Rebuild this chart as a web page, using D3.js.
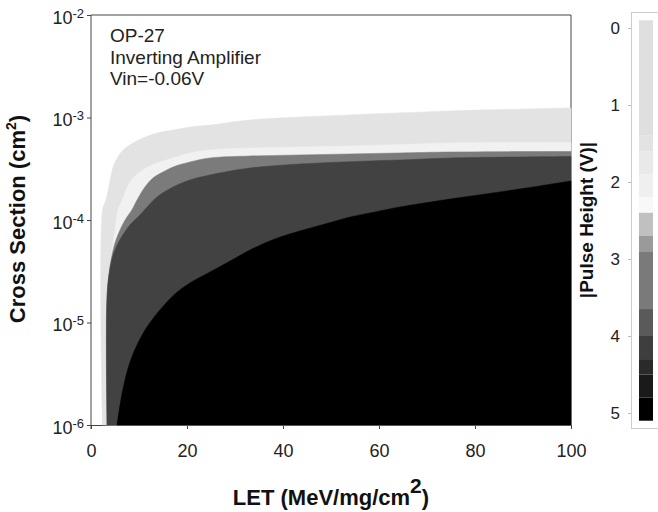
<!DOCTYPE html>
<html>
<head>
<meta charset="utf-8">
<script src="https://cdn.jsdelivr.net/npm/d3@7"></script>
<style>
  body { margin: 0; background: #fff; }
  svg { font-family: "Liberation Sans", Arial, sans-serif; }
</style>
</head>
<body>
<div id="wrapper"></div>
<script>
// edges of the contour bands
// LET in MeV/mg/cm2, cross section in cm2
const letA = [2.4, 2.4, 3.1, 4.0, 4.6, 5.6, 6.7, 8.75, 10.8, 13.75, 17.1, 20.6, 24.8, 33.1, 43.5, 54, 64.4, 74.8, 100]
const sigA = [1e-6, 1.25e-4, 1.57e-4, 2.46e-4, 3.29e-4, 4.12e-4, 4.82e-4, 5.64e-4, 6.31e-4, 7.06e-4, 7.55e-4, 8.07e-4, 8.45e-4, 9.46e-4, 1.01e-3, 1.06e-3, 1.11e-3, 1.16e-3, 1.24e-3]

const letB = [3.4, 3.4, 4.4, 5.0, 5.6, 6.5, 7.5, 8.75, 10.8, 13.75, 17.1, 20.6, 24.8, 33.1, 43.5, 54, 64.4, 74.8, 100]
const sigB = [1e-6, 2.32e-5, 5.09e-5, 7.98e-5, 1.25e-4, 1.57e-4, 2.05e-4, 2.57e-4, 3.08e-4, 3.60e-4, 4.03e-4, 4.51e-4, 4.82e-4, 5.04e-4, 5.15e-4, 5.27e-4, 5.45e-4, 5.64e-4, 5.70e-4]

const letC = [3.4, 3.4, 4.6, 5.6, 7.1, 8.5, 9.6, 11.25, 12.9, 15, 17.1, 20.6, 24.8, 33.1, 43.5, 54, 64.4, 74.8, 100]
const sigC = [1e-6, 2.07e-5, 5.09e-5, 7.14e-5, 1.0e-4, 1.25e-4, 1.57e-4, 2.10e-4, 2.57e-4, 2.94e-4, 3.29e-4, 3.68e-4, 4.03e-4, 4.21e-4, 4.31e-4, 4.41e-4, 4.51e-4, 4.61e-4, 4.66e-4]

const letD = [3.33, 3.33, 3.75, 4.6, 6.0, 8.1, 10.2, 11.7, 13.75, 17.1, 20.6, 24.8, 33.1, 43.5, 54, 64.4, 74.8, 100]
const sigD = [1e-6, 1.66e-5, 2.90e-5, 4.56e-5, 6.38e-5, 8.93e-5, 1.12e-4, 1.34e-4, 1.68e-4, 2.10e-4, 2.46e-4, 2.75e-4, 3.21e-4, 3.52e-4, 3.71e-4, 3.85e-4, 4.03e-4, 4.17e-4]

const letE = [5.42, 6.04, 7.08, 8.13, 9.58, 11.25, 13.33, 15.42, 17.5, 20.6, 24.8, 29.0, 33.1, 38.3, 43.5, 48.75, 54, 59.2, 64.4, 74.8, 85.2, 93.5, 100]
const sigE = [1e-6, 1.57e-6, 2.75e-6, 4.12e-6, 6.03e-6, 8.45e-6, 1.16e-5, 1.51e-5, 1.90e-5, 2.43e-5, 3.11e-5, 3.98e-5, 5.09e-5, 6.53e-5, 7.82e-5, 9.14e-5, 1.07e-4, 1.20e-4, 1.34e-4, 1.60e-4, 1.88e-4, 2.15e-4, 2.40e-4]

const bandColors = ["#e3e3e3", "#f1f1f1", "#7b7b7b", "#424242", "#000000"]

// colour bar: |pulse height| level boundaries (V) and fill of each step
const cbLevels = [-0.1, 1.4, 1.6, 1.9, 2.2, 2.4, 2.7, 2.9, 3.65, 4.0, 4.3, 4.5, 4.8, 5.1]
const cbColors = ["#dfdfdf", "#e3e3e3", "#e9e9e9", "#efefef", "#f8f8f8", "#c0c0c0", "#9a9a9a", "#7a7a7a", "#5a5a5a", "#3e3e3e", "#2a2a2a", "#1a1a1a", "#000000"]
const cbTicks = [0, 1, 2, 3, 4, 5]

const xTicks = [0, 20, 40, 60, 80, 100]
const yTicks = [1e-6, 1e-5, 1e-4, 1e-3, 1e-2]
const noteLines = ["OP-27", "Inverting Amplifier", "Vin=-0.06V"]

function drawChart() {
  let dimensions = {
    width: 658,
    height: 512,
    margin: { top: 15, right: 87, bottom: 87, left: 91 },
  }
  dimensions.boundedWidth = dimensions.width - dimensions.margin.left - dimensions.margin.right
  dimensions.boundedHeight = dimensions.height - dimensions.margin.top - dimensions.margin.bottom

  const wrapper = d3.select("#wrapper")
    .append("svg")
      .attr("width", dimensions.width)
      .attr("height", dimensions.height)

  const bounds = wrapper.append("g")
      .attr("transform", `translate(${dimensions.margin.left},${dimensions.margin.top})`)

  const xScale = d3.scaleLinear()
    .domain([0, 100])
    .range([0, dimensions.boundedWidth])

  const yScale = d3.scaleLog()
    .domain([1e-6, 1e-2])
    .range([dimensions.boundedHeight, 0])

  // frame (top + right), sits under the bands
  bounds.append("path")
      .attr("d", `M0,0H${dimensions.boundedWidth}V${dimensions.boundedHeight}`)
      .attr("fill", "none")
      .attr("stroke", "#444")

  // x axis
  const xAxis = bounds.append("g")
      .attr("transform", `translate(0,${dimensions.boundedHeight})`)
      .call(d3.axisBottom(xScale).tickValues(xTicks).tickSize(4).tickSizeOuter(0).tickPadding(15))
  xAxis.select(".domain").attr("stroke", "#444")
  xAxis.selectAll(".tick line").attr("stroke", "#444")
  xAxis.selectAll("text")
      .attr("font-size", 18)
      .attr("fill", "#222")
      .attr("font-family", "Liberation Sans, Arial, sans-serif")

  // contour bands
  const bands = [
    { let: letA, sig: sigA },
    { let: letB, sig: sigB },
    { let: letC, sig: sigC },
    { let: letD, sig: sigD },
    { let: letE, sig: sigE },
  ]
  const area = d3.area()
    .x(d => xScale(d[0]))
    .y0(yScale(1e-6))
    .y1(d => yScale(d[1]))
    .curve(d3.curveCatmullRom.alpha(0.5))

  bands.forEach((b, i) => {
    const pts = b.let.map((l, j) => [l, b.sig[j]])
    bounds.append("path")
        .attr("d", area(pts))
        .attr("fill", bandColors[i])
        .attr("stroke", bandColors[i])
        .attr("stroke-width", 0.5)
  })

  // y axis
  const yAxis = bounds.append("g")
      .call(d3.axisLeft(yScale).tickValues(yTicks).tickSize(4).tickSizeOuter(0).tickFormat(""))
  yAxis.select(".domain").attr("stroke", "#444").attr("d", `M0,0V${dimensions.boundedHeight + 4}`)
  yAxis.selectAll(".tick line").attr("stroke", "#444")
  yAxis.selectAll(".tick").filter(d => d === 1e-6).append("line")
      .attr("x2", 4).attr("stroke", "#444")
  const yLab = yAxis.selectAll(".tick").append("text")
      .attr("x", -7)
      .attr("y", 8)
      .attr("text-anchor", "end")
      .attr("fill", "#222")
      .attr("font-size", 18)
  yLab.append("tspan").text("10")
  yLab.append("tspan")
      .attr("font-size", 13)
      .attr("dy", -6)
      .text(d => "-" + Math.round(-Math.log10(d)))

  // note
  bounds.append("text")
      .attr("x", 19)
      .attr("y", 27)
      .attr("fill", "#222")
      .attr("font-size", 19)
    .selectAll("tspan")
    .data(noteLines)
    .join("tspan")
      .attr("x", 19)
      .attr("dy", (d, i) => i === 0 ? 0 : 21.5)
      .text(d => d)

  // axis titles
  const xTitle = wrapper.append("text")
      .attr("x", 331)
      .attr("y", 505)
      .attr("text-anchor", "middle")
      .attr("font-weight", "bold")
      .attr("font-size", 22)
      .attr("fill", "#111")
  xTitle.append("tspan").text("LET (MeV/mg/cm")
  xTitle.append("tspan").attr("font-size", 21).attr("dy", -12).text("2")
  xTitle.append("tspan").attr("dy", 12).text(")")

  const yTitle = wrapper.append("text")
      .attr("transform", "translate(25,219) rotate(-90)")
      .attr("text-anchor", "middle")
      .attr("font-weight", "bold")
      .attr("font-size", 22)
      .attr("fill", "#111")
  yTitle.append("tspan").text("Cross Section (cm")
  yTitle.append("tspan").attr("font-size", 14).attr("dy", -9).text("2")
  yTitle.append("tspan").attr("dy", 9).text(")")

  // colour bar
  const cbScale = d3.scaleLinear()
    .domain([0, 5])
    .range([28, 413])

  const cb = wrapper.append("g")

  cb.append("rect")
      .attr("x", 631.5)
      .attr("y", 12.5)
      .attr("width", 40)
      .attr("height", 416)
      .attr("fill", "#fff")
      .attr("stroke", "#ccc")

  cb.selectAll(".step")
    .data(cbColors)
    .join("rect")
      .attr("class", "step")
      .attr("x", 639)
      .attr("width", 14)
      .attr("y", (d, i) => cbScale(cbLevels[i]))
      .attr("height", (d, i) => cbScale(cbLevels[i + 1]) - cbScale(cbLevels[i]))
      .attr("fill", d => d)

  const cbAxis = cb.append("g")
      .attr("transform", "translate(631,0)")
      .call(d3.axisLeft(cbScale).tickValues(cbTicks).tickSize(3).tickPadding(8).tickFormat(d3.format("d")))
  cbAxis.select(".domain").remove()
  cbAxis.selectAll(".tick line").attr("stroke", "#bbb")
  cbAxis.selectAll("text")
      .attr("font-size", 17)
      .attr("fill", "#222")
      .attr("font-family", "Liberation Sans, Arial, sans-serif")

  wrapper.append("text")
      .attr("transform", "translate(593,220) rotate(-90)")
      .attr("text-anchor", "middle")
      .attr("font-weight", "bold")
      .attr("font-size", 19)
      .attr("fill", "#111")
      .text("|Pulse Height (V)|")
}

drawChart()
</script>
</body>
</html>
